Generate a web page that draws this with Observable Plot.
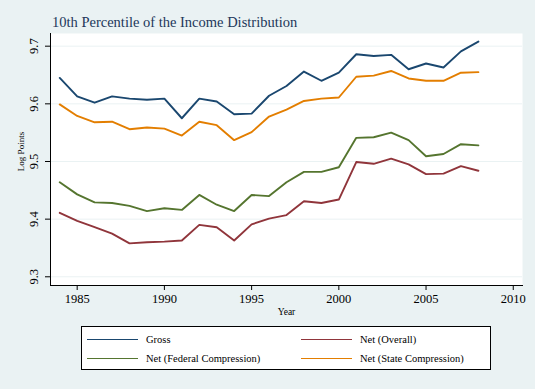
<!DOCTYPE html>
<html><head><meta charset="utf-8">
<script src="https://cdn.jsdelivr.net/npm/d3@7"></script>
<script src="https://cdn.jsdelivr.net/npm/@observablehq/plot@0.6"></script>
<style>
html,body{margin:0;padding:0;background:#eaf2f3;}
#wrap{position:relative;width:535px;height:389px;overflow:hidden;font-family:"Liberation Serif","Times New Roman",serif;}
#title{height:33px;box-sizing:border-box;padding:14px 0 0 52px;font-size:14.5px;line-height:16px;color:#22375a;white-space:nowrap;}
#chart svg{display:block;}
#legend{position:absolute;left:81px;top:326px;width:410px;height:44px;box-sizing:border-box;border:1px solid #000;background:#fff;}
.item{position:absolute;height:14px;display:flex;align-items:center;font-size:10.5px;white-space:nowrap;color:#000;}
.sw{width:51px;height:0;border-top:1.6px solid;margin-right:8px;}
</style></head>
<body>
<div id="wrap">
  <div id="title"></div>
  <div id="chart"></div>
  <div id="legend"></div>
</div>
<script>
const titleText = "10th Percentile of the Income Distribution";
const yLabel = "Log Points";
const xLabel = "Year";
const years = [1984,1985,1986,1987,1988,1989,1990,1991,1992,1993,1994,1995,1996,1997,1998,1999,2000,2001,2002,2003,2004,2005,2006,2007,2008];
const gross =      [9.645,9.613,9.602,9.613,9.609,9.607,9.609,9.575,9.609,9.604,9.582,9.583,9.614,9.631,9.656,9.640,9.654,9.686,9.683,9.685,9.660,9.670,9.663,9.691,9.708];
const netOverall = [9.411,9.397,9.386,9.375,9.358,9.360,9.361,9.363,9.390,9.386,9.363,9.391,9.401,9.407,9.431,9.428,9.434,9.499,9.496,9.505,9.495,9.478,9.479,9.492,9.484];
const netFederal = [9.464,9.443,9.429,9.428,9.423,9.414,9.419,9.416,9.442,9.425,9.414,9.442,9.440,9.464,9.482,9.482,9.490,9.541,9.542,9.550,9.537,9.509,9.513,9.530,9.528];
const netState =   [9.599,9.579,9.568,9.569,9.556,9.559,9.557,9.545,9.569,9.563,9.537,9.551,9.578,9.590,9.605,9.609,9.611,9.647,9.649,9.657,9.644,9.640,9.640,9.654,9.655];
const seriesNames = ["Gross","Net (Overall)","Net (Federal Compression)","Net (State Compression)"];
const seriesColors = ["#1a476f","#90353b","#55752f","#e37e00"];
const yTicks = [9.3,9.4,9.5,9.6,9.7];
const xTicks = [1985,1990,1995,2000,2005,2010];

const seriesValues = [gross, netOverall, netFederal, netState];
const rows = [];
seriesNames.forEach((name, si) => years.forEach((yr, i) => rows.push({series: name, year: yr, value: seriesValues[si][i]})));

document.getElementById("title").textContent = titleText;

const font = "'Liberation Serif','Times New Roman',serif";
const chart = Plot.plot({
  width: 535, height: 287,
  marginTop: 0, marginBottom: 35, marginLeft: 50, marginRight: 13,
  x: {domain: [1983.47, 2010.53]},
  y: {domain: [9.2849, 9.722]},
  color: {domain: seriesNames, range: seriesColors},
  style: {background: "transparent", fontFamily: font, color: "#000", overflow: "visible"},
  marks: [
    Plot.frame({fill: "white", stroke: null}),
    Plot.ruleY(yTicks, {stroke: "#eaf2f3", strokeWidth: 1}),
    ...seriesNames.map(name => Plot.line(rows.filter(r => r.series === name), {x: "year", y: "value", stroke: "series", strokeWidth: 1.9})),
    Plot.frame({anchor: "left", stroke: "#000"}),
    Plot.frame({anchor: "bottom", stroke: "#000"}),
    Plot.axisY({ticks: yTicks, tickSize: 5, tickFormat: () => "", label: null}),
    Plot.axisX({ticks: xTicks, tickSize: 5, tickFormat: () => "", label: null}),
    Plot.text(yTicks, {y: d => d, text: d => d.toFixed(1), frameAnchor: "left", dx: -17, rotate: -90, textAnchor: "middle", lineAnchor: "middle", fontSize: 12.5}),
    Plot.text(xTicks, {x: d => d, text: d => String(d), frameAnchor: "bottom", dy: 13.5, lineAnchor: "middle", fontSize: 12.5}),
    Plot.text([xLabel], {text: d => d, frameAnchor: "bottom", dy: 26.5, lineAnchor: "middle", fontSize: 9.5}),
    Plot.text([yLabel], {text: d => d, frameAnchor: "left", dx: -29, dy: -8, rotate: -90, textAnchor: "middle", lineAnchor: "middle", fontSize: 9})
  ]
});
document.getElementById("chart").appendChild(chart);

const legend = document.getElementById("legend");
const pos = [[5, 5.3], [219, 5.3], [5, 24.3], [219, 24.3]];
seriesNames.forEach((name, i) => {
  const it = document.createElement("div");
  it.className = "item";
  it.style.left = pos[i][0] + "px";
  it.style.top = pos[i][1] + "px";
  const sw = document.createElement("span");
  sw.className = "sw";
  sw.style.borderTopColor = seriesColors[i];
  const tx = document.createElement("span");
  tx.textContent = name;
  it.appendChild(sw); it.appendChild(tx);
  legend.appendChild(it);
});
</script>
</body></html>
